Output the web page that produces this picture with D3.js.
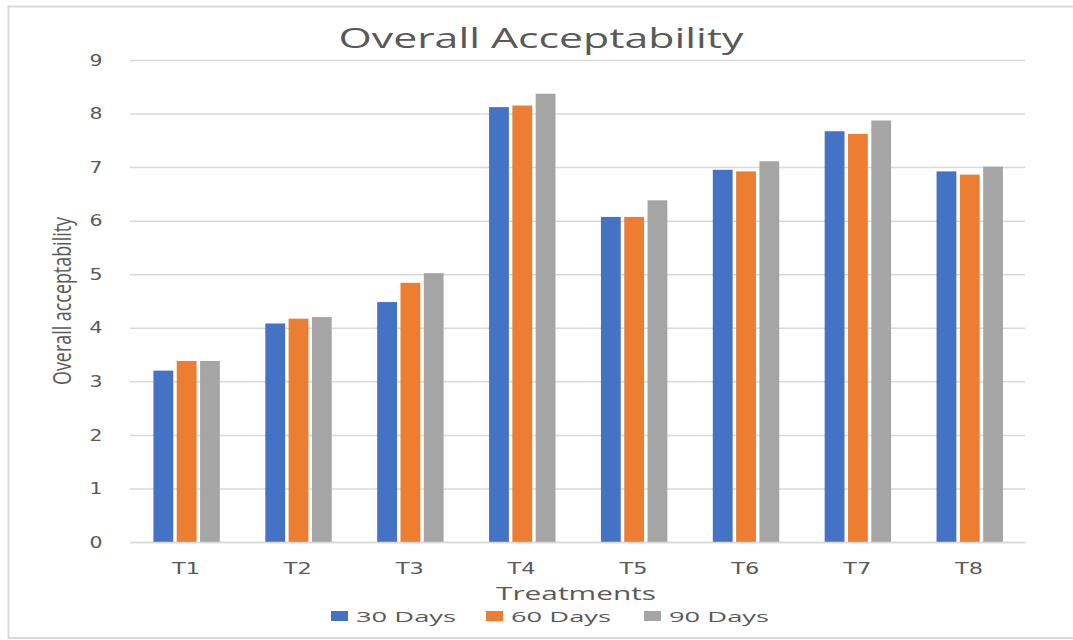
<!DOCTYPE html>
<html>
<head>
<meta charset="utf-8">
<script src="https://cdn.jsdelivr.net/npm/d3@7"></script>
<style>
  html, body { margin: 0; padding: 0; background: #fff; }
  svg { display: block; }
  text { font-family: "Open Sans", "DejaVu Sans", sans-serif; fill: #595959; }
</style>
</head>
<body>
<svg id="chart" width="1073" height="640"></svg>
<script>
const categories = ["T1", "T2", "T3", "T4", "T5", "T6", "T7", "T8"];
const seriesNames = ["30 Days", "60 Days", "90 Days"];
const days30 = [3.20, 4.08, 4.48, 8.12, 6.07, 6.95, 7.67, 6.92];
const days60 = [3.38, 4.17, 4.84, 8.15, 6.07, 6.92, 7.62, 6.86];
const days90 = [3.38, 4.20, 5.02, 8.37, 6.38, 7.11, 7.87, 7.01];
const yTicks = [0, 1, 2, 3, 4, 5, 6, 7, 8, 9];
const colors = ["#4472C4", "#ED7D31", "#A5A5A5"];
const titleText = "Overall Acceptability";
const xTitle = "Treatments";
const yTitle = "Overall acceptability";

const seriesValues = [days30, days60, days90];
const data = categories.map((c, i) => ({
  cat: c,
  vals: seriesNames.map((s, j) => ({ s, j, v: seriesValues[j][i] }))
}));

const svg = d3.select("#chart");
const plot = { left: 130, right: 1025, top: 60, bottom: 542 };

// outer border
svg.append("rect")
  .attr("x", 8.5).attr("y", 6.5)
  .attr("width", 1080).attr("height", 631.5)
  .attr("fill", "none").attr("stroke", "#D9D9D9").attr("stroke-width", 2);

const x0 = d3.scaleBand().domain(categories).range([plot.left, plot.right]).padding(0);
const bw = x0.bandwidth();
const x1 = d3.scaleBand().domain(seriesNames).range([bw * 0.205, bw * 0.83]);
const y = d3.scaleLinear().domain([0, 9]).range([plot.bottom, plot.top]);

// gridlines
svg.append("g")
  .attr("transform", `translate(${plot.left},0)`)
  .call(d3.axisLeft(y).tickValues(yTicks).tickSize(-(plot.right - plot.left)).tickFormat(""))
  .call(g => g.select(".domain").remove())
  .call(g => g.selectAll("line").attr("stroke", "#D9D9D9").attr("stroke-width", 1.5));

// y tick labels
const yAxis = svg.append("g")
  .attr("transform", `translate(${plot.left - 34},0)`)
  .call(d3.axisLeft(y).tickValues(yTicks).tickSize(0).tickFormat(d3.format("d")))
  .call(g => g.select(".domain").remove());
yAxis.selectAll("text")
  .attr("text-anchor", "middle")
  .attr("x", 0)
  .style("font-size", "16px")
  .style("font-family", "'DejaVu Sans', sans-serif")
  .attr("textLength", 13)
  .attr("lengthAdjust", "spacingAndGlyphs")
  .style("fill", "#595959");

// bars
const groups = svg.append("g").selectAll("g")
  .data(data).join("g")
  .attr("transform", d => `translate(${x0(d.cat)},0)`);
groups.selectAll("rect")
  .data(d => d.vals).join("rect")
  .attr("x", d => x1(d.s) + 0.5)
  .attr("width", x1.bandwidth() - 3.5)
  .attr("y", d => y(d.v))
  .attr("height", d => y(0) - y(d.v))
  .attr("fill", d => colors[d.j]);

// x axis line + labels
svg.append("g")
  .attr("transform", `translate(0,${plot.bottom})`)
  .call(d3.axisBottom(x0).tickSize(0).tickPadding(0))
  .call(g => g.select(".domain").attr("stroke", "#D9D9D9").attr("stroke-width", 1.5))
  .call(g => g.selectAll("text")
    .attr("y", 32)
    .attr("dy", 0)
    .style("font-size", "16px")
    .style("font-family", "'DejaVu Sans', sans-serif")
    .attr("textLength", 28)
    .attr("lengthAdjust", "spacingAndGlyphs")
    .style("fill", "#595959"));

// title
svg.append("text")
  .attr("x", 541).attr("y", 48)
  .attr("text-anchor", "middle")
  .attr("textLength", 405).attr("lengthAdjust", "spacingAndGlyphs")
  .style("font-size", "28px")
  .text(titleText);

// x title
svg.append("text")
  .attr("x", 576).attr("y", 600)
  .attr("text-anchor", "middle")
  .attr("textLength", 160).attr("lengthAdjust", "spacingAndGlyphs")
  .style("font-size", "19px")
  .text(xTitle);

// y title
svg.append("text")
  .attr("transform", "translate(71,301) rotate(-90)")
  .attr("text-anchor", "middle")
  .attr("textLength", 168).attr("lengthAdjust", "spacingAndGlyphs")
  .style("font-size", "26px")
  .style("font-family", "'Liberation Sans Narrow', 'Open Sans', sans-serif")
  .text(yTitle);

// legend
const legendX = [331, 486, 644];
const leg = svg.append("g").selectAll("g")
  .data(seriesNames).join("g")
  .attr("transform", (d, i) => `translate(${legendX[i]},611)`);
leg.append("rect")
  .attr("x", 0).attr("y", 0)
  .attr("width", 17).attr("height", 10)
  .attr("fill", (d, i) => colors[i]);
leg.append("text")
  .attr("x", 25).attr("y", 11)
  .attr("textLength", 100).attr("lengthAdjust", "spacingAndGlyphs")
  .style("font-size", "15px")
  .text(d => d);
</script>
</body>
</html>
